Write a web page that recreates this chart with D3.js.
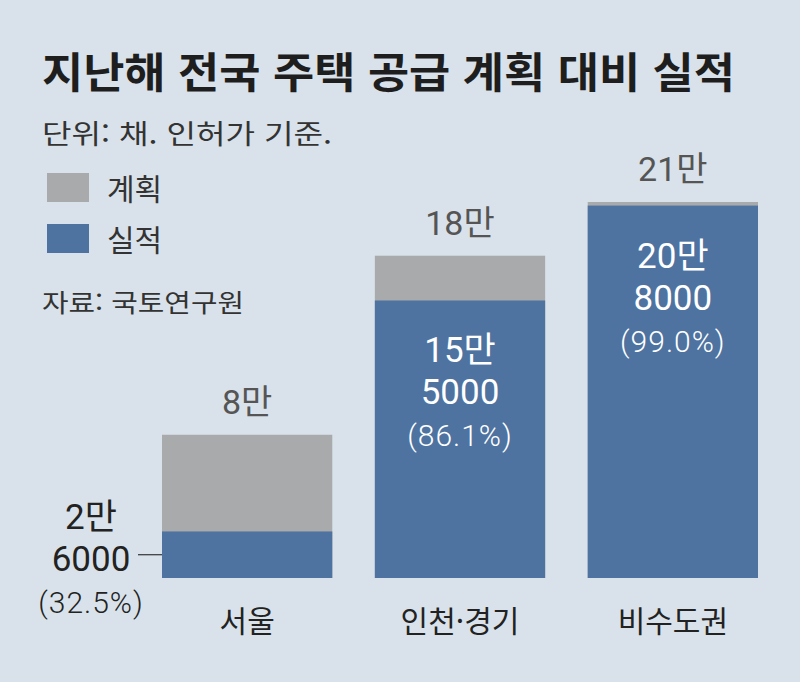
<!DOCTYPE html>
<html lang="ko">
<head>
    <meta charset="UTF-8">
    <title>지난해 전국 주택 공급 계획 대비 실적</title>
    <script src="https://d3js.org/d3.v7.min.js"></script>
    <style>
        body {
            margin: 0;
            background-color: #d9e2ea;
        }
        svg text {
            font-family: Roboto, "Noto Sans CJK KR", sans-serif;
        }
    </style>
</head>
<body>
    <svg width="800" height="682"></svg>

    <script>
        // data
        var regions = ["서울", "인천·경기", "비수도권"];
        var planValues = [80000, 180000, 210000];
        var actualValues = [26000, 155000, 208000];
        var seriesNames = ["계획", "실적"];

        var colors = { "계획": "#a9aaac", "실적": "#4e73a0" };

        // 80000 -> "8만", 26000 -> ["2만", "6000"]
        function manLabel(v) {
            var man = Math.floor(v / 10000), rest = v % 10000;
            return rest ? [man + "만", String(rest)] : [man + "만"];
        }

        var svg = d3.select("svg");

        // title + notes
        svg.append("text")
           .attr("x", 42).attr("y", 88)
           .attr("textLength", 693)
           .attr("lengthAdjust", "spacingAndGlyphs")
           .style("font-family", "'Noto Sans CJK KR'")
           .style("font-weight", 700)
           .style("font-size", "42px")
           .attr("fill", "#1e1e1e")
           .text("지난해 전국 주택 공급 계획 대비 실적");

        svg.append("text")
           .attr("x", 42).attr("y", 144)
           .attr("textLength", 290)
           .attr("lengthAdjust", "spacingAndGlyphs")
           .style("font-family", "'Noto Sans CJK KR'")
           .style("font-size", "27px")
           .attr("fill", "#333")
           .text("단위: 채. 인허가 기준.");

        // legend
        var legend = svg.append("g")
            .selectAll("g")
            .data(seriesNames)
            .enter().append("g")
            .attr("transform", function(d, i) { return "translate(47," + (173 + i * 51) + ")"; });

        legend.append("rect")
              .attr("width", 42).attr("height", 29)
              .attr("fill", function(d) { return colors[d]; });

        legend.append("text")
              .attr("x", 60).attr("y", 27)
              .style("font-family", "'Noto Sans CJK KR'")
              .style("font-size", "30px")
              .attr("fill", "#333")
              .text(function(d) { return d; });

        svg.append("text")
           .attr("x", 42).attr("y", 312)
           .attr("textLength", 202)
           .attr("lengthAdjust", "spacingAndGlyphs")
           .style("font-family", "'Noto Sans CJK KR'")
           .style("font-size", "25px")
           .attr("fill", "#333")
           .text("자료: 국토연구원");

        // scales
        var x = d3.scaleBand()
                  .domain(regions)
                  .range([162, 162 + 3 * 170 + 2 * 43])
                  .paddingInner(0.2)
                  .paddingOuter(0);

        var y = d3.scaleLinear()
                  .domain([0, 210000])
                  .range([578, 202]);

        var rows = regions.map(function(r, i) {
            return { region: r, plan: planValues[i], actual: actualValues[i] };
        });

        var bars = svg.append("g");

        // plan (gray, full height)
        bars.selectAll("rect.plan")
            .data(rows)
            .enter().append("rect")
            .attr("class", "plan")
            .attr("x", function(d) { return x(d.region); })
            .attr("y", function(d) { return y(d.plan); })
            .attr("width", x.bandwidth())
            .attr("height", function(d) { return y(0) - y(d.plan); })
            .attr("fill", colors["계획"]);

        // actual (blue, overlaid)
        bars.selectAll("rect.actual")
            .data(rows)
            .enter().append("rect")
            .attr("class", "actual")
            .attr("x", function(d) { return x(d.region); })
            .attr("y", function(d) { return y(d.actual); })
            .attr("width", x.bandwidth())
            .attr("height", function(d) { return y(0) - y(d.actual); })
            .attr("fill", colors["실적"]);

        // plan totals above bars
        svg.append("g")
           .selectAll("text")
           .data(rows)
           .enter().append("text")
           .attr("x", function(d) { return x(d.region) + x.bandwidth() / 2; })
           .attr("y", function(d) { return y(d.plan) - 21; })
           .attr("text-anchor", "middle")
           .style("font-size", "34px")
           .attr("fill", "#555")
           .text(function(d) { return manLabel(d.plan)[0]; });

        // region names
        svg.append("g")
           .selectAll("text")
           .data(rows)
           .enter().append("text")
           .attr("x", function(d) { return x(d.region) + x.bandwidth() / 2; })
           .attr("y", 632)
           .attr("text-anchor", "middle")
           .style("font-family", "'Noto Sans CJK KR'")
           .style("font-size", "30px")
           .attr("fill", "#222")
           .text(function(d) { return d.region; });

        // actual labels: inside the bar when it is tall, else to the left with a leader line
        rows.forEach(function(d) {
            var lines = manLabel(d.actual);
            lines.push("(" + (d.actual / d.plan * 100).toFixed(1) + "%)");
            var inside = y(0) - y(d.actual) > 150;
            var cx = inside ? x(d.region) + x.bandwidth() / 2 : 91;
            var y0 = inside ? y(d.actual) + 62 : y(d.actual) - 2;

            var g = svg.append("g");
            g.selectAll("text")
             .data(lines)
             .enter().append("text")
             .attr("x", cx)
             .attr("y", function(t, i) { return y0 + i * 42; })
             .attr("text-anchor", "middle")
             .style("font-size", function(t, i) { return i < 2 ? "35px" : "30px"; })
             .style("font-weight", function(t, i) { return i < 2 ? 400 : 300; })
             .style("letter-spacing", function(t, i) { return i < 2 ? "0px" : "1px"; })
             .attr("fill", inside ? "#fff" : "#222")
             .text(function(t) { return t; });

            if (!inside) {
                svg.append("line")
                   .attr("x1", 138).attr("x2", x(d.region))
                   .attr("y1", (y(d.actual) + y(0)) / 2)
                   .attr("y2", (y(d.actual) + y(0)) / 2)
                   .attr("stroke", "#333")
                   .attr("stroke-width", 1.2);
            }
        });
    </script>
</body>
</html>
